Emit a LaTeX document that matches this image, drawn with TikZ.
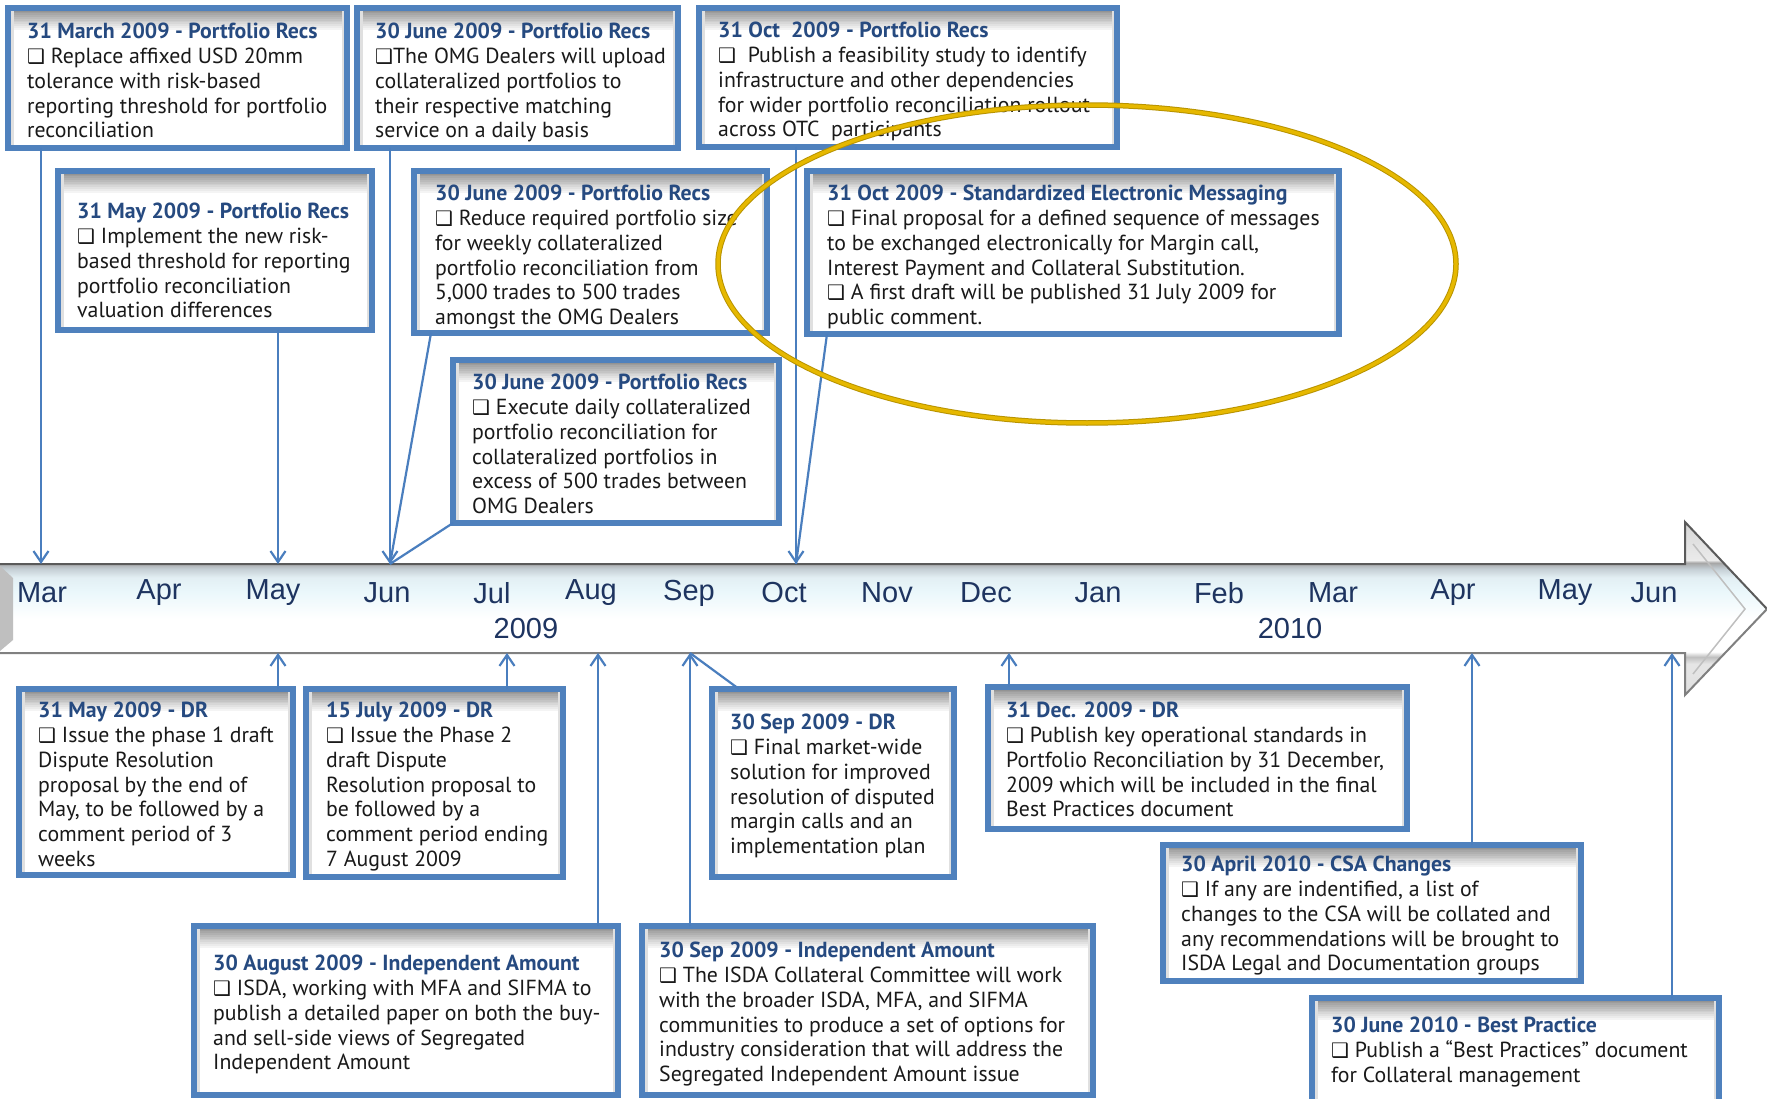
\documentclass[tikz,border=0pt]{standalone}
\usepackage{fontspec}
\setmainfont{PT Sans}
\newfontfamily\monthfont{Liberation Sans}
\newfontfamily\symf{DejaVu Sans}
\usetikzlibrary{arrows.meta}

\definecolor{boxblue}{RGB}{79,129,189}
\definecolor{lineblue}{RGB}{74,126,190}
\definecolor{titleblue}{RGB}{38,74,128}
\definecolor{bodytext}{RGB}{25,25,25}
\definecolor{monthnavy}{RGB}{30,52,96}
\definecolor{ringgold}{RGB}{230,184,0}
\definecolor{tlcyan}{RGB}{234,247,251}
\definecolor{tlgray}{RGB}{196,206,212}
\definecolor{tledge}{RGB}{90,90,90}

% light-cyan to white band of the time axis
\pgfdeclareverticalshading{axisband}{100bp}{
  color(0bp)=(black!12); color(25bp)=(black!12);
  color(34bp)=(black!10); color(36bp)=(black!25); color(37.5bp)=(white);
  color(47bp)=(white); color(55bp)=(tlcyan);
  color(59bp)=(tlcyan!80!tlgray); color(61.5bp)=(tlgray);
  color(63.2bp)=(black!35); color(64bp)=(black!8);
  color(75bp)=(black!16); color(100bp)=(black!16)}

\newcommand{\cb}{{\symf\fontsize{20}{20}\selectfont ❑}}
\newcommand{\ttl}[1]{{\bfseries\color{titleblue}#1}}

\tikzset{
  evbox/.style={draw=boxblue, line width=5.5pt, fill=white,
    inner sep=0pt, outer sep=0pt, anchor=north west,
    path picture={
      % soft inner shadow below the top edge
      \foreach \i [evaluate=\i as \g using 46-3.8*\i] in {0,...,11}{
        \fill[black!\g]
          ([yshift={-\i*1.8}]path picture bounding box.north west) rectangle
          ([yshift={-(\i+1)*1.8-0.4}]path picture bounding box.north east);
      }
      \draw[black!12, line width=3pt]
        ([xshift=4pt]path picture bounding box.north west) --
        ([xshift=4pt]path picture bounding box.south west);
      \draw[black!12, line width=3pt]
        ([xshift=-4pt]path picture bounding box.north east) --
        ([xshift=-4pt]path picture bounding box.south east);
    }},
  evtext/.style={anchor=north west, align=left, inner sep=0pt, yshift=-3pt,
    font=\fontsize{21.8}{24.8}\selectfont, text=bodytext},
  month/.style={font=\monthfont\fontsize{29}{29}\selectfont, text=monthnavy, inner sep=0pt},
  conn/.style={draw=lineblue, line width=2.2pt,
    -{Straight Barb[length=11pt,width=15pt,line width=2.2pt]}},
  link/.style={draw=lineblue, line width=2.2pt},
}

% box macro: name, x1, y1, x2, y2
\newcommand{\ebox}[5]{\node[evbox, minimum width={#4-#2}, minimum height={#5-#3}] (#1) at (#2,#3) {};}

\begin{document}
\begin{tikzpicture}[x=1pt,y=-1pt]
\useasboundingbox (0,0) rectangle (1767,1099);
\clip (0,0) rectangle (1767,1099);
\fill[white] (0,0) rectangle (1767,1099);

% ---------- time axis ----------
\shade[shading=axisband]
  (-2,564) -- (1685,564) -- (1685,522) -- (1767,609) -- (1685,695)
  -- (1685,653) -- (-2,653) -- cycle;
\fill[black!25] (0,566) -- (13,578) -- (13,640) -- (0,651) -- cycle;
\draw[black!25, line width=1.5pt] (1693,544) -- (1745,609) -- (1693,674);
\draw[tledge, line width=2pt] (-2,564) -- (1685,564) -- (1685,522) -- (1767,609);
\draw[black!50, line width=2pt] (1767,609) -- (1685,695) -- (1685,653) -- (-2,653);

% month labels
\foreach \m/\x in {Mar/42, Apr/159, May/273, Jun/387, Jul/492, Aug/591,
                   Sep/689, Oct/784, Nov/887, Dec/986, Jan/1098, Feb/1219,
                   MarB/1333, AprB/1453, MayB/1565, JunB/1654}{
  \coordinate (pos\m) at (\x,593);
}
\node[month] (lMar) at (posMar) {Mar};
\node[month] (lApr) at (posApr) {Apr};
\node[month] (lMay) at (posMay) {May};
\node[month] (lJun) at (posJun) {Jun};
\node[month] (lJul) at (posJul) {Jul};
\node[month] (lAug) at (posAug) {Aug};
\node[month] (lSep) at (posSep) {Sep};
\node[month] (lOct) at (posOct) {Oct};
\node[month] (lNov) at (posNov) {Nov};
\node[month] (lDec) at (posDec) {Dec};
\node[month] (lJan) at (posJan) {Jan};
\node[month] (lFeb) at (posFeb) {Feb};
\node[month] (lMarB) at (posMarB) {Mar};
\node[month] (lAprB) at (posAprB) {Apr};
\node[month] (lMayB) at (posMayB) {May};
\node[month] (lJunB) at (posJunB) {Jun};
\node[month] (y2009) at (526,629) {2009};
\node[month] (y2010) at (1290,629) {2010};

% points on the axis edges
\coordinate (tMar) at (41,564);
\coordinate (tMay) at (278,564);
\coordinate (tJun) at (390,564);
\coordinate (tOct) at (796,564);
\coordinate (bMay) at (278,653);
\coordinate (bJul) at (507,653);
\coordinate (bAug) at (598,653);
\coordinate (bSep) at (690,653);
\coordinate (bDec) at (1009,653);
\coordinate (bApr) at (1472,653);
\coordinate (bJun) at (1672,653);

% ---------- boxes ----------
\ebox{pA}{8}{8}{347}{148}
\ebox{pB}{357}{8}{678}{148}
\ebox{pC}{699}{8}{1117}{147}
\ebox{pD}{58}{171}{372}{330}
\ebox{pE}{414}{171}{767}{333}
\ebox{sF}{807}{171}{1339}{334}
\ebox{pG}{453}{360}{779}{523}
\ebox{dH}{19}{689}{293}{875}
\ebox{dI}{306}{689}{563}{877}
\ebox{dJ}{712}{689}{954}{877}
\ebox{dK}{988}{687}{1407}{829}
\ebox{iL}{194}{926}{618}{1095}
\ebox{iM}{642}{926}{1093}{1095}
\ebox{cN}{1163}{845}{1581}{981}
\ebox{bO}{1312}{998}{1719}{1110}

% ---------- connectors ----------
\draw[conn] (pA.south -| tMar) -- (tMar);
\draw[conn] (pD.south -| tMay) -- (tMay);
\draw[conn] (pB.south -| tJun) -- (tJun);
\draw[link] ([xshift=17pt]pE.south west) -- (tJun);
\draw[link] (pG.south west) -- (tJun);
\draw[conn] (pC.south -| tOct) -- (tOct);
\draw[link] ([xshift=20pt]sF.south west) -- (tOct);

\draw[conn] (dH.north -| bMay) -- (bMay);
\draw[conn] (dI.north -| bJul) -- (bJul);
\draw[conn] (iL.north -| bAug) -- (bAug);
\draw[conn] (iM.north -| bSep) -- (bSep);
\draw[link] ([xshift=27pt]dJ.north west) -- (bSep);
\draw[conn] (dK.north -| bDec) -- (bDec);
\draw[conn] (cN.north -| bApr) -- (bApr);
\draw[conn] (bO.north -| bJun) -- (bJun);

% ---------- texts ----------
\node[evtext] (pA-t) at (27,20) {\ttl{31 March 2009 - Portfolio Recs}\\
  \cb\ Replace affixed USD 20mm\\ tolerance with risk-based\\
  reporting threshold for portfolio\\ reconciliation};
\node[evtext] (pB-t) at (375,20) {\ttl{30 June 2009 - Portfolio Recs}\\
  \cb The OMG Dealers will upload\\ collateralized portfolios to\\
  their respective matching\\ service on a daily basis};
\node[evtext] (pC-t) at (718,19) {\ttl{31 Oct\ \ 2009 - Portfolio Recs}\\
  \cb\ \ Publish a feasibility study to identify\\
  infrastructure and other dependencies\\
  for wider portfolio reconciliation rollout\\
  across OTC\ \ participants};
\node[evtext] (pD-t) at (77,200) {\ttl{31 May 2009 - Portfolio Recs}\\
  \cb\ Implement the new risk-\\ based threshold for reporting\\
  portfolio reconciliation\\ valuation differences};
\node[evtext] (pE-t) at (435,182) {\ttl{30 June 2009 - Portfolio Recs}\\
  \cb\ Reduce required portfolio size\\ for weekly collateralized\\
  portfolio reconciliation from\\ 5,000 trades to 500 trades\\
  amongst the OMG Dealers};
\node[evtext] (sF-t) at (827,182) {\ttl{31 Oct 2009 - Standardized Electronic Messaging}\\
  \cb\ Final proposal for a defined sequence of messages\\
  to be exchanged electronically for Margin call,\\
  Interest Payment and Collateral Substitution.\\
  \cb\ A first draft will be published 31 July 2009 for\\
  public comment.};
\node[evtext] (pG-t) at (472,371) {\ttl{30 June 2009 - Portfolio Recs}\\
  \cb\ Execute daily collateralized\\ portfolio reconciliation for\\
  collateralized portfolios in\\ excess of 500 trades between\\ OMG Dealers};
\node[evtext] (dH-t) at (38,699) {\ttl{31 May 2009 - DR}\\
  \cb\ Issue the phase 1 draft\\ Dispute Resolution\\ proposal by the end of\\
  May, to be followed by a\\ comment period of 3\\ weeks};
\node[evtext] (dI-t) at (326,699) {\ttl{15 July 2009 - DR}\\
  \cb\ Issue the Phase 2\\ draft Dispute\\ Resolution proposal to\\
  be followed by a\\ comment period ending\\ 7 August 2009};
\node[evtext] (dJ-t) at (730,711) {\ttl{30 Sep 2009 - DR}\\
  \cb\ Final market-wide\\ solution for improved\\ resolution of disputed\\
  margin calls and an\\ implementation plan};
\node[evtext] (dK-t) at (1006,699) {\ttl{31 Dec. 2009 - DR}\\
  \cb\ Publish key operational standards in\\
  Portfolio Reconciliation by 31 December,\\
  2009 which will be included in the final\\ Best Practices document};
\node[evtext] (iL-t) at (213,952) {\ttl{30 August 2009 - Independent Amount}\\
  \cb\ ISDA, working with MFA and SIFMA to\\
  publish a detailed paper on both the buy-\\
  and sell-side views of Segregated\\ Independent Amount};
\node[evtext] (iM-t) at (659,939) {\ttl{30 Sep 2009 - Independent Amount}\\
  \cb\ The ISDA Collateral Committee will work\\
  with the broader ISDA, MFA, and SIFMA\\
  communities to produce a set of options for\\
  industry consideration that will address the\\
  Segregated Independent Amount issue};
\node[evtext] (cN-t) at (1181,853) {\ttl{30 April 2010 - CSA Changes}\\
  \cb\ If any are indentified, a list of\\
  changes to the CSA will be collated and\\
  any recommendations will be brought to\\
  ISDA Legal and Documentation groups};
\node[evtext] (bO-t) at (1331,1014) {\ttl{30 June 2010 - Best Practice}\\
  \cb\ Publish a “Best Practices” document\\ for Collateral management};

% ---------- highlight ring ----------
\draw[ringgold!80!black, line width=5.5pt] (1087,264) ellipse [x radius=369pt, y radius=159pt];
\draw[ringgold, line width=3.5pt] (1087,264) ellipse [x radius=369pt, y radius=159pt];
\end{tikzpicture}
\end{document}
